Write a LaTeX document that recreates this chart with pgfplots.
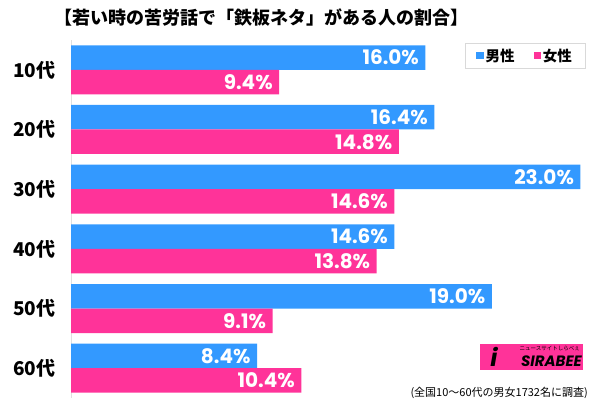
\documentclass[border=0pt]{standalone}
\usepackage{pgfplots}
\pgfplotsset{compat=1.18}
\usepackage{pgfplotstable}
\usepackage{fontspec}
\setmainfont{Noto Sans CJK JP}
\newfontfamily\jp{Noto Sans CJK JP}
\newfontfamily\num{Poppins}

\definecolor{male}{HTML}{3399FF}
\definecolor{female}{HTML}{FF3399}

% y: 5 = 10代 (top) ... 0 = 60代 (bottom)
\pgfplotstableread{
y male female
5 16.0 9.4
4 16.4 14.8
3 23.0 14.6
2 14.6 13.8
1 19.0 9.1
0 8.4 10.4
}\data

\begin{document}
\begin{tikzpicture}[x=1pt,y=1pt]
\path[use as bounding box] (0,0) rectangle (600,402);

\begin{axis}[
  at={(71pt,4pt)}, anchor=south west,
  scale only axis,
  width=531.6pt, height=358pt,
  xmin=0, xmax=24,
  ymin=-0.5, ymax=5.5,
  xbar, bar width=24.5pt,
  axis x line=none,
  axis y line=left,
  y axis line style={-, draw=black!12, line width=1pt},
  ytick={0,...,5},
  yticklabels={60代,50代,40代,30代,20代,10代},
  ytick style={draw=none},
  yticklabel style={font=\jp\bfseries\fontsize{19}{19}\selectfont, xshift=-10pt},
  /pgf/number format/assume math mode=true,
  point meta=x,
  nodes near coords={\pgfmathprintnumber[fixed,fixed zerofill,precision=1]{\pgfplotspointmeta}\%},
  every node near coord/.append style={anchor=east, text=white,
    font=\num\bfseries\fontsize{20}{20}\selectfont, xshift=-3pt},
  legend style={at={(0.967,0.9916)}, anchor=north east, draw=black!15,
    font=\jp\bfseries\fontsize{14.5}{14.5}\selectfont, legend columns=2,
    inner xsep=11pt, inner ysep=3.5pt,
    /tikz/every odd column/.append style={column sep=0pt},
    /tikz/every even column/.append style={column sep=17pt}},
  legend image code/.code={\fill[#1, draw=none] (0pt,-3.6pt) rectangle (7.2pt,3.6pt);},
]
\addplot[fill=male, draw=none, bar shift=12.25pt] table[x=male, y=y] \data;
\addplot[fill=female, draw=none, bar shift=-12.25pt] table[x=female, y=y] \data;
\legend{男性, 女性}
\end{axis}

% title
\node[font=\jp\bfseries\fontsize{18}{18}\selectfont] at (261.5,384) {【若い時の苦労話で「鉄板ネタ」がある人の割合】};

% logo
\fill[female] (480,32) rectangle (583,58);
\node[font=\num\bfseries\itshape\fontsize{15}{15}\selectfont, anchor=east, inner sep=0pt] at (582,41) {SIRABEE};
\node[font=\jp\fontsize{5.5}{5.5}\selectfont, anchor=east, inner sep=0pt] at (580,53) {ニュースサイトしらべぇ};
\node[font=\num\bfseries\itshape\fontsize{24}{24}\selectfont, inner sep=0pt] at (494,45) {i};

% footnote
\node[font=\jp\fontsize{11}{11}\selectfont, anchor=east, inner sep=0pt] at (588,9) {(全国10～60代の男女1732名に調査)};
\end{tikzpicture}
\end{document}
